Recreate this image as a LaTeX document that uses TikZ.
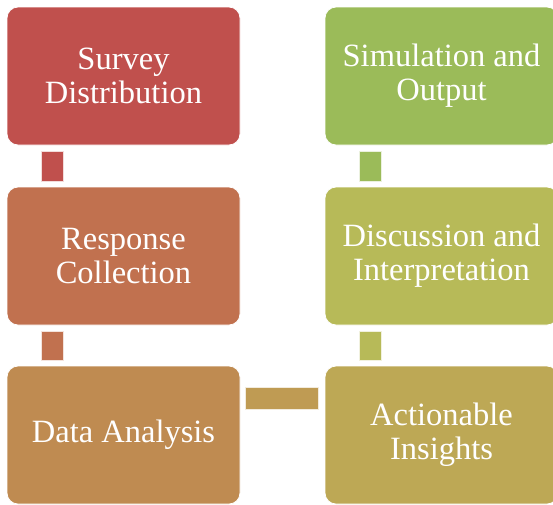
\documentclass[tikz,border=0pt]{standalone}
\usepackage{fontspec}
\setmainfont{Liberation Serif}
\usetikzlibrary{calc}
\definecolor{stepA}{RGB}{192,80,77}
\definecolor{stepB}{RGB}{193,113,79}
\definecolor{stepC}{RGB}{191,139,81}
\definecolor{stepD}{RGB}{189,168,85}
\definecolor{stepE}{RGB}{183,186,88}
\definecolor{stepF}{RGB}{155,187,89}
\definecolor{linkH}{RGB}{191,155,83}
\tikzset{
    block/.style = {draw=white, line width=.8pt, rectangle, rounded corners=11pt,
        minimum height=138pt,
        minimum width=233pt, text=white, align=center,
        font=\fontsize{32.5}{34}\selectfont},
    vlink/.style = {draw=white!80!#1, fill=#1, line width=.5pt},
}
\begin{document}
\begin{tikzpicture}[x=1pt,y=-1pt]
                \useasboundingbox (0,0) rectangle (553,504);
                \node[block,fill=stepA] (sd) at (123.5,76) {Survey\\Distribution};
                \node[block,fill=stepB] (rc) at (123.5,256) {Response\\Collection};
                \node[block,fill=stepC] (da) at (123.5,435) {Data Analysis};
                \node[block,fill=stepD] (ai) at (441.5,435) {Actionable\\Insights};
                \node[block,fill=stepE] (di) at (441.5,256) {Discussion and\\Interpretation};
                \node[block,fill=stepF] (so) at (441.5,76) {Simulation and\\Output};
                % links between the boxes
                \draw[vlink=stepA] ($(sd.south west)+(35,6)$) rectangle ($(rc.north west)+(57,-5)$);
                \draw[vlink=stepB] ($(rc.south west)+(35,6)$) rectangle ($(da.north west)+(57,-5)$);
                \draw[vlink=linkH] ($(da.north east)+(5,22)$) rectangle ($(ai.north west)+(-6,44)$);
                \draw[vlink=stepE] ($(di.south west)+(35,6)$) rectangle ($(ai.north west)+(57,-5)$);
                \draw[vlink=stepF] ($(so.south west)+(35,6)$) rectangle ($(di.north west)+(57,-5)$);
            \end{tikzpicture}
\end{document}
